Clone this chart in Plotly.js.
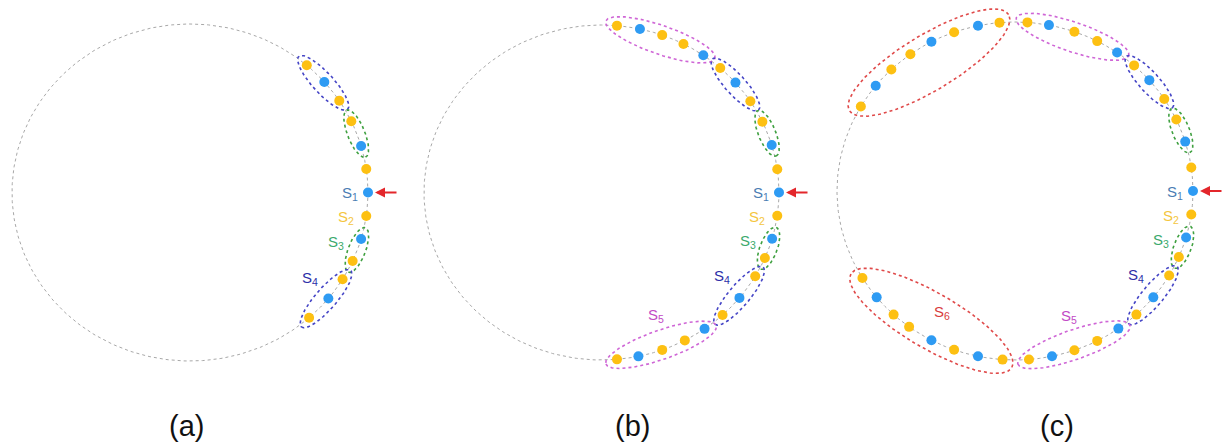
<!DOCTYPE html>
<html>
<head>
<meta charset="utf-8">
<script src="https://cdn.plot.ly/plotly-3.0.1.min.js"></script>
<style>
  html, body { margin: 0; padding: 0; background: #ffffff; }
  #chart { width: 1232px; height: 443px; }
</style>
</head>
<body>
<div id="chart"></div>
<script>
// ---------------- DATA ----------------
// Angular position (degrees, 0 = rightmost point of the ring) of each bead
const anglesA = [49, 41, 33, 25, 16, 8, 0, -8, -16, -24, -31, -39, -48];
const typesA  = ['Y','B','Y','Y','B','Y','B','Y','B','Y','Y','B','Y'];
const groupsA = [4, 4, 4, 3, 3, 2, 1, 2, 3, 3, 4, 4, 4];

const anglesB = [85, 77.5, 70, 62.5, 55, 48, 41, 33, 25, 16.5, 8, 0, -8, -16, -23, -30, -39, -47, -54.5, -62, -70, -78, -85];
const typesB  = ['Y','B','Y','Y','B','Y','B','Y','Y','B','Y','B','Y','B','Y','Y','B','Y','B','Y','Y','B','Y'];
const groupsB = [5, 5, 5, 5, 5, 4, 4, 4, 3, 3, 2, 1, 2, 3, 3, 4, 4, 4, 5, 5, 5, 5, 5];

const anglesC = [150, 141.5, 134, 126, 118, 110, 102, 95, 86, 79, 70.5, 62.5, 55, 48, 41, 33, 25, 17, 8, 0, -8, -16, -23, -30, -39, -47, -54.5, -62.5, -70.5, -78, -85.5, -94, -102, -110, -118, -126.5, -133, -141, -149];
const typesC  = ['Y','B','Y','Y','B','Y','B','Y','Y','B','Y','Y','B','Y','B','Y','Y','B','Y','B','Y','B','Y','Y','B','Y','B','Y','Y','B','Y','Y','B','Y','B','Y','Y','B','Y'];
const groupsC = [6, 6, 6, 6, 6, 6, 6, 6, 5, 5, 5, 5, 5, 4, 4, 4, 3, 3, 2, 1, 2, 3, 3, 4, 4, 4, 5, 5, 5, 5, 5, 6, 6, 6, 6, 6, 6, 6, 6];

const panelLabels = ['(a)', '(b)', '(c)'];
const groupNames  = ['S<sub>1</sub>','S<sub>2</sub>','S<sub>3</sub>','S<sub>4</sub>','S<sub>5</sub>','S<sub>6</sub>'];

// ---------------- LAYOUT / STYLE ----------------
const W = 1232, H = 443;
const GEOM = [
  {cx: 190,   cy: 192.5, rx: 178,   ry: 168.5, x0: 0,   x1: 410},
  {cx: 601.5, cy: 192.5, rx: 177.5, ry: 167.5, x0: 410, x1: 820},
  {cx: 1015,  cy: 191,   rx: 178,   ry: 169,   x0: 820, x1: 1232}
];
const PANEL_LABEL_X = [186, 632, 1057];
const PANEL_LABEL_Y = 426;
const DOT_COLOR = {B: '#2E9BF3', Y: '#FDC012'};
const RING_COLOR = {3: '#3FA040', 4: '#4545C6', 5: '#CF66D6', 6: '#E04A4A'};
const LABEL_COLOR = {1: '#4A7DB3', 2: '#F4C63E', 3: '#3BAA6C', 4: '#2C2FA8', 5: '#C24BC6', 6: '#D83C3C'};
const LABEL_OFFSET = {1: [-18, 1], 2: [-20, 2], 3: [-21, -7], 4: [-17, -20], 5: [-5, -31], 6: [16, -15]};
const FONT = 'Liberation Sans, Arial, sans-serif';

const panelsData = [
  {angles: anglesA, types: typesA, groups: groupsA},
  {angles: anglesB, types: typesB, groups: groupsB},
  {angles: anglesC, types: typesC, groups: groupsC}
];

const rad = d => d * Math.PI / 180;
function toPx(g, deg) { return [g.cx + g.rx * Math.cos(rad(deg)), g.cy - g.ry * Math.sin(rad(deg))]; }
function pxToData(g, p) { return [(p[0] - g.cx) / g.rx, (g.cy - p[1]) / g.ry]; }

const traces = [];
const annotations = [];
const layout = {
  width: W, height: H,
  margin: {l: 0, r: 0, t: 0, b: 0},
  paper_bgcolor: '#ffffff', plot_bgcolor: '#ffffff',
  showlegend: false,
  hovermode: false,
  annotations: annotations
};

panelsData.forEach((pd, i) => {
  const g = GEOM[i];
  const xa = i === 0 ? 'x' : 'x' + (i + 1);
  const ya = i === 0 ? 'y' : 'y' + (i + 1);
  const xKey = i === 0 ? 'xaxis' : 'xaxis' + (i + 1);
  const yKey = i === 0 ? 'yaxis' : 'yaxis' + (i + 1);
  layout[xKey] = {
    domain: [g.x0 / W, g.x1 / W],
    range: [(g.x0 - g.cx) / g.rx, (g.x1 - g.cx) / g.rx],
    visible: false, fixedrange: true, anchor: ya
  };
  layout[yKey] = {
    domain: [0, 1],
    range: [(g.cy - H) / g.ry, g.cy / g.ry],
    visible: false, fixedrange: true, anchor: xa
  };

  // base ring (dotted)
  const rx = [], ry = [];
  for (let t = 0; t <= 360; t += 1) { rx.push(Math.cos(rad(t))); ry.push(Math.sin(rad(t))); }
  traces.push({x: rx, y: ry, xaxis: xa, yaxis: ya, mode: 'lines', type: 'scatter',
    line: {color: '#A8A8A8', width: 1, dash: 'dot'}, hoverinfo: 'skip'});

  // runs of consecutive beads in the same group
  const runs = [];
  pd.groups.forEach((gr, k) => {
    const last = runs[runs.length - 1];
    if (last && last.group === gr) last.idx.push(k);
    else runs.push({group: gr, idx: [k]});
  });

  // dashed ellipses around each run of group >= 3
  runs.forEach(run => {
    if (run.group < 3) return;
    const pts = run.idx.map(k => toPx(g, pd.angles[k]));
    const P1 = pts[0], Pn = pts[pts.length - 1];
    const M = [(P1[0] + Pn[0]) / 2, (P1[1] + Pn[1]) / 2];
    const d = [Pn[0] - P1[0], Pn[1] - P1[1]];
    const L = Math.hypot(d[0], d[1]);
    const u = [d[0] / L, d[1] / L];
    let n = [-u[1], u[0]];
    if ((M[0] - g.cx) * n[0] + (M[1] - g.cy) * n[1] < 0) n = [-n[0], -n[1]];
    let sag = 0;
    pts.forEach(p => { sag = Math.max(sag, (p[0] - M[0]) * n[0] + (p[1] - M[1]) * n[1]); });
    const C = [M[0] + n[0] * sag * 0.12, M[1] + n[1] * sag * 0.12];
    const a = L / 2 + 12;
    const b = sag + 8.7;
    const ex = [], ey = [];
    for (let t = 0; t <= 360; t += 2) {
      const c = Math.cos(rad(t)), s = Math.sin(rad(t));
      const p = [C[0] + u[0] * a * c + n[0] * b * s, C[1] + u[1] * a * c + n[1] * b * s];
      const dd = pxToData(g, p);
      ex.push(dd[0]); ey.push(dd[1]);
    }
    traces.push({x: ex, y: ey, xaxis: xa, yaxis: ya, mode: 'lines', type: 'scatter',
      line: {color: RING_COLOR[run.group], width: 1.6, dash: 'dot'}, hoverinfo: 'skip'});
  });

  // beads
  ['B', 'Y'].forEach(tp => {
    const bx = [], by = [];
    pd.angles.forEach((ang, k) => {
      if (pd.types[k] !== tp) return;
      bx.push(Math.cos(rad(ang))); by.push(Math.sin(rad(ang)));
    });
    traces.push({x: bx, y: by, xaxis: xa, yaxis: ya, mode: 'markers', type: 'scatter',
      marker: {color: DOT_COLOR[tp], size: 10, line: {width: 0}}, hoverinfo: 'skip'});
  });

  // group labels at the lower run of each group
  const maxGroup = Math.max(...pd.groups);
  for (let gr = 1; gr <= maxGroup; gr++) {
    const cand = runs.filter(r => r.group === gr);
    let best = null, bestMean = Infinity;
    cand.forEach(r => {
      const m = r.idx.reduce((s, k) => s + pd.angles[k], 0) / r.idx.length;
      if (m < bestMean) { bestMean = m; best = r; }
    });
    const pts = best.idx.map(k => toPx(g, pd.angles[k]));
    const mp = [pts.reduce((s, p) => s + p[0], 0) / pts.length, pts.reduce((s, p) => s + p[1], 0) / pts.length];
    const dd = pxToData(g, mp);
    annotations.push({
      x: dd[0], y: dd[1], xref: xa, yref: ya,
      xshift: LABEL_OFFSET[gr][0], yshift: -LABEL_OFFSET[gr][1],
      text: groupNames[gr - 1], showarrow: false,
      xanchor: 'center', yanchor: 'middle',
      font: {family: FONT, size: 15, color: LABEL_COLOR[gr]}
    });
  }

  // red arrow pointing at S1
  const s1 = pd.groups.indexOf(1);
  annotations.push({
    x: Math.cos(rad(pd.angles[s1])), y: Math.sin(rad(pd.angles[s1])), xref: xa, yref: ya,
    text: '', showarrow: true, ax: 30, ay: 0, standoff: 7,
    arrowhead: 2, arrowsize: 1, arrowwidth: 2, arrowcolor: '#E3262B'
  });

  // panel label
  annotations.push({
    x: PANEL_LABEL_X[i] / W, y: 1 - PANEL_LABEL_Y / H, xref: 'paper', yref: 'paper',
    text: panelLabels[i], showarrow: false, xanchor: 'center', yanchor: 'middle',
    font: {family: FONT, size: 29, color: '#111111'}
  });
});

Plotly.newPlot('chart', traces, layout, {staticPlot: true, displayModeBar: false});
</script>
</body>
</html>
